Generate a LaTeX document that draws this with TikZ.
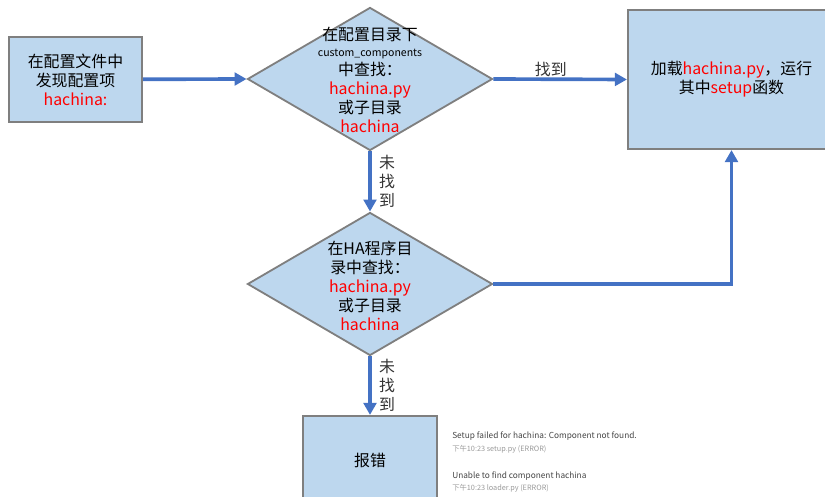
\documentclass[tikz,border=0pt]{standalone}
\usepackage{fontspec}
\usepackage{tikz}
\usetikzlibrary{shapes.geometric,arrows.meta,positioning}
\newfontfamily\cjk{Noto Sans CJK SC}
\definecolor{boxfill}{HTML}{BDD7EE}
\definecolor{boxline}{HTML}{7F7F7F}
\definecolor{flowblue}{HTML}{4472C4}
\definecolor{hired}{HTML}{FF0000}
\definecolor{logdark}{HTML}{444444}
\definecolor{loggray}{HTML}{9A9A9A}
\newcommand{\hl}[1]{\textcolor{hired}{#1}}

\begin{document}
\begin{tikzpicture}[x=0.025cm,y=-0.025cm,
  font=\cjk\fontsize{11.3}{13.5}\selectfont,
  procbox/.style={draw=boxline,fill=boxfill,line width=1.5pt,align=center,inner sep=0pt},
  decision/.style={diamond,draw=boxline,fill=boxfill,line width=1.3pt,inner sep=0pt,
    minimum width=6.125cm,minimum height=3.575cm},
  flow/.style={draw=flowblue,line width=2.6pt,-{Triangle[length=8.5pt,width=9pt]}},
  steplabel/.style={align=center,text=black!80,inner sep=0.18cm},
  logmsg/.style={anchor=west,inner sep=0pt,text=logdark,font=\cjk\fontsize{5.9}{7}\selectfont},
  loginfo/.style={anchor=west,inner sep=0pt,text=loggray,font=\cjk\fontsize{5.2}{6}\selectfont}]
\useasboundingbox (0,0) rectangle (825,497);
% boxes and decisions
\node[procbox,minimum width=3.325cm,minimum height=2.125cm] (found) at (75.5,79.5)
  {在配置文件中\\发现配置项\\\hl{hachina:}};
\node[decision] (custom) at (370,79) {};
\node[align=center,inner sep=0pt] (customtext) at (370,80)
  {在配置目录下\\[-2.2pt]{\fontsize{7.5}{9}\selectfont custom\_components}\\中查找：\\\hl{hachina.py}\\或子目录\\\hl{hachina}};
\node[procbox,minimum width=5.175cm,minimum height=3.475cm] (load) at (731.5,79.5)
  {加载\hl{hachina.py}，运行\\其中\hl{setup}函数};
\node[decision] (home) at (370,284) {};
\node[align=center,inner sep=0pt] (hometext) at (370,286)
  {在HA程序目\\录中查找：\\\hl{hachina.py}\\或子目录\\\hl{hachina}};
\node[procbox,minimum width=3.35cm,minimum height=2.2cm] (err) at (370,460) {报错};
% connectors
\draw[flow] (found) -- (custom.west);
\draw[flow] (custom.east) -- node[above,steplabel,inner sep=0.5pt,pos=0.43] {找到} (load.west);
\draw[flow] (custom.south) -- node[right,steplabel] {未\\找\\到} (home.north);
\draw[flow] (home.east) -| (load.south);
\draw[flow] (home.south) -- node[right,steplabel] {未\\找\\到} (err.north);
% log lines
\node[logmsg] (setupmsg) at (452,436) {Setup failed for hachina: Component not found.};
\node[loginfo] (setupinfo) at (452,449) {下午10:23 setup.py (ERROR)};
\node[logmsg] (loadermsg) at (452,476) {Unable to find component hachina};
\node[loginfo] (loaderinfo) at (452,488) {下午10:23 loader.py (ERROR)};
\end{tikzpicture}
\end{document}
